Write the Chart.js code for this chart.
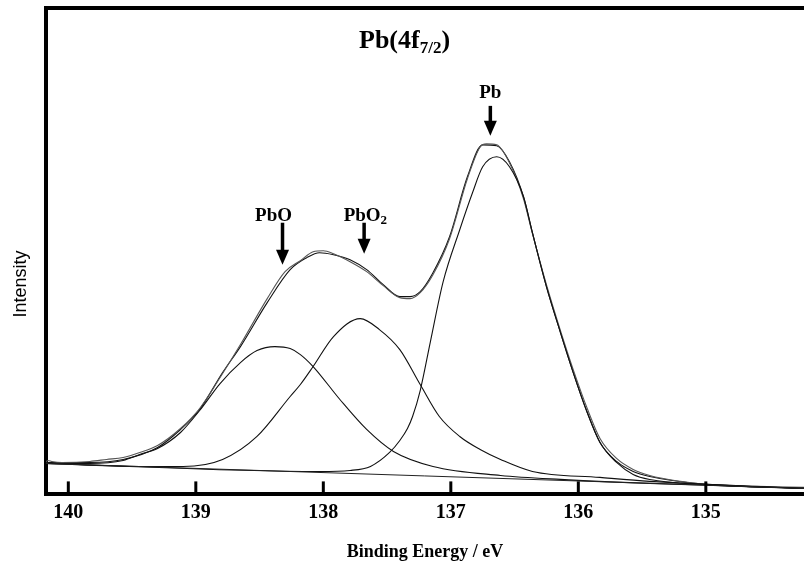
<!DOCTYPE html>
<html lang="en">
<head>
<meta charset="UTF-8">
<title>Pb(4f7/2) XPS</title>
<script src="https://cdn.jsdelivr.net/npm/chart.js"></script>
<style>
body {
    margin: 0;
    padding: 0;
    background: #fff;
}
canvas {
    display: block;
}
</style>
</head>
<body>
<canvas id="xps" width="804" height="563"></canvas>
<script>
// Binding energy ticks (eV), axis runs from high to low energy
const energyTicks = [140, 139, 138, 137, 136, 135];

// linear background
const bgE = [140.18, 134.23];
const bgI = [33, 8];

// PbO component
const pboE = [140.18, 139.83, 139.57, 139.44, 139.30, 139.12, 138.97, 138.81, 138.65, 138.52, 138.38,
              138.26, 138.18, 138.08, 137.87, 137.66, 137.45, 137.14, 136.61, 136.14, 135.44, 134.23];
const pboI = [33, 33, 36, 42, 48, 64, 86, 113, 134, 146, 150,
              148, 142, 130, 97, 67, 45, 30, 21, 17, 13, 8];

// PbO2 component
const pbo2E = [140.18, 139.44, 139.10, 138.79, 138.52, 138.26, 138.18, 138.08, 137.92, 137.71, 137.56,
               137.40, 137.24, 137.09, 136.93, 136.77, 136.61, 136.36, 135.83, 135.44, 134.23];
const pbo2I = [33, 30, 30, 37, 60, 100, 112, 130, 160, 178, 167,
               147, 112, 80, 60, 47, 37, 25, 19, 15, 8];

// metallic Pb component
const pbE = [140.18, 138.03, 137.79, 137.63, 137.48, 137.40, 137.34, 137.30, 137.24, 137.16, 137.06,
             136.93, 136.83, 136.75, 136.64, 136.54, 136.43, 136.36, 136.25, 136.14, 136.04, 135.93,
             135.83, 135.70, 135.57, 135.44, 135.00, 134.23];
const pbI = [33, 25, 26, 30, 44, 56, 68, 80, 106, 155, 215,
             267, 304, 330, 340, 330, 300, 264, 210, 164, 124, 84,
             54, 34, 22, 17, 12, 8];

// fitted envelope
const fitE = [140.18, 140.13, 139.83, 139.57, 139.30, 139.12, 138.97, 138.79, 138.65, 138.44, 138.26,
              138.13, 138.03, 137.92, 137.79, 137.66, 137.53, 137.40, 137.32, 137.24, 137.14, 137.01,
              136.87, 136.75, 136.64, 136.54, 136.43, 136.36, 136.25, 136.14, 136.04, 135.93, 135.83,
              135.70, 135.57, 135.44, 135.00, 134.23];
const fitI = [34, 34, 34, 37, 49, 67, 87, 124, 150, 194, 227,
              239, 244, 242, 237, 227, 212, 200, 200, 205, 224, 260,
              320, 352, 351, 335, 300, 264, 210, 164, 124, 84, 54,
              35, 25, 20, 12, 8];

// measured spectrum
const expE = [140.18, 140.16, 140.13, 140.05, 139.83, 139.70, 139.57, 139.44, 139.30, 139.12, 138.97,
              138.79, 138.65, 138.44, 138.30, 138.18, 138.08, 138.00, 137.92, 137.79, 137.66, 137.53,
              137.40, 137.32, 137.24, 137.14, 137.01, 136.87, 136.77, 136.72, 136.64, 136.54, 136.43,
              136.36, 136.25, 136.14, 136.04, 135.93, 135.83, 135.70, 135.57, 135.44, 135.20, 135.00,
              134.60, 134.23];
const expI = [34, 36, 35, 34, 35, 37, 39, 44, 51, 68, 88,
              123, 152, 198, 225, 236, 245, 246, 243, 235, 225, 211,
              199, 198, 204, 222, 258, 318, 350, 353, 352, 334, 298,
              263, 212, 166, 127, 88, 58, 38, 27, 21, 15, 12,
              10, 9];

function pts(es, is) {
    return es.map((e, k) => ({ x: e, y: is[k] }));
}

function curve(es, is, color, width) {
    return {
        data: pts(es, is),
        borderColor: color,
        borderWidth: width,
        pointRadius: 0,
        fill: false,
        cubicInterpolationMode: 'monotone'
    };
}

// peak markers: label, subscript, energy of arrow, arrow tail/tip intensity, label offset and intensity
const markers = [
    { text: 'PbO', sub: '', e: 138.32, tail: 274, tip: 232, dx: -9, label: 283 },
    { text: 'PbO', sub: '2', e: 137.68, tail: 274, tip: 243, dx: 0, label: 283 },
    { text: 'Pb', sub: '', e: 136.69, tail: 391, tip: 361, dx: 0, label: 406 }
];

const serif = '"Liberation Serif", "Times New Roman", serif';

const decor = {
    id: 'decor',
    afterDraw(chart) {
        const { ctx, chartArea: a, scales: { x, y } } = chart;
        ctx.save();
        ctx.strokeStyle = '#000';
        ctx.fillStyle = '#000';

        // top frame
        ctx.lineWidth = 4;
        ctx.beginPath();
        ctx.moveTo(a.left - 2, a.top);
        ctx.lineTo(a.right, a.top);
        ctx.stroke();

        // tick marks pointing into the plot
        ctx.lineWidth = 3;
        energyTicks.forEach(v => {
            const px = x.getPixelForValue(v);
            ctx.beginPath();
            ctx.moveTo(px, a.bottom);
            ctx.lineTo(px, a.bottom - 13);
            ctx.stroke();
        });

        // y axis title
        ctx.save();
        ctx.translate(21, 284);
        ctx.rotate(-Math.PI / 2);
        ctx.textAlign = 'center';
        ctx.textBaseline = 'middle';
        ctx.font = '18px "Liberation Sans", Arial, sans-serif';
        ctx.fillText('Intensity', 0, 0);
        ctx.restore();

        // title Pb(4f7/2)
        ctx.textBaseline = 'alphabetic';
        ctx.textAlign = 'left';
        let tx = 359, ty = 48;
        ctx.font = 'bold 26px ' + serif;
        ctx.fillText('Pb(4f', tx, ty);
        tx += ctx.measureText('Pb(4f').width;
        ctx.font = 'bold 17px ' + serif;
        ctx.fillText('7/2', tx, ty + 5);
        tx += ctx.measureText('7/2').width;
        ctx.font = 'bold 26px ' + serif;
        ctx.fillText(')', tx, ty);

        // peak labels with arrows
        markers.forEach(m => {
            const px = x.getPixelForValue(m.e);
            const yTail = y.getPixelForValue(m.tail);
            const yTip = y.getPixelForValue(m.tip);
            const yLab = y.getPixelForValue(m.label);

            ctx.font = 'bold 19px ' + serif;
            const w1 = ctx.measureText(m.text).width;
            const left = px - w1 / 2 - (m.sub ? 2 : 0) + m.dx;
            ctx.fillText(m.text, left, yLab + 7);
            if (m.sub) {
                ctx.font = 'bold 13px ' + serif;
                ctx.fillText(m.sub, left + w1, yLab + 10);
            }

            ctx.lineWidth = 3.5;
            ctx.beginPath();
            ctx.moveTo(px, yTail);
            ctx.lineTo(px, yTip - 12);
            ctx.stroke();
            ctx.beginPath();
            ctx.moveTo(px - 6.5, yTip - 15);
            ctx.lineTo(px + 6.5, yTip - 15);
            ctx.lineTo(px, yTip);
            ctx.closePath();
            ctx.fill();
        });
        ctx.restore();
    }
};

new Chart(document.getElementById('xps'), {
    type: 'line',
    data: {
        datasets: [
            curve(bgE, bgI, '#222', 1),
            curve(pboE, pboI, '#111', 1.1),
            curve(pbo2E, pbo2I, '#111', 1.1),
            curve(pbE, pbI, '#111', 1.1),
            curve(expE, expI, '#555', 1.1),
            curve(fitE, fitI, '#111', 1.1)
        ]
    },
    options: {
        responsive: false,
        animation: false,
        layout: { padding: { left: 46, top: 8, right: 0, bottom: 0 } },
        plugins: {
            legend: { display: false },
            tooltip: { enabled: false }
        },
        scales: {
            x: {
                type: 'linear',
                reverse: true,
                min: 134.23,
                max: 140.175,
                afterBuildTicks: s => { s.ticks = energyTicks.map(v => ({ value: v })); },
                grid: { display: true, drawOnChartArea: false, drawTicks: false },
                border: { display: true, color: '#000', width: 4 },
                ticks: {
                    color: '#000',
                    padding: 6,
                    maxRotation: 0,
                    autoSkip: false,
                    font: { family: serif, size: 20, weight: 'bold' },
                    callback: v => String(v)
                },
                title: {
                    display: true,
                    text: 'Binding Energy / eV',
                    color: '#000',
                    font: { family: serif, size: 18, weight: 'bold' },
                    padding: { top: 11, bottom: 0 }
                }
            },
            y: {
                type: 'linear',
                min: 2,
                max: 489,
                grid: { display: true, drawOnChartArea: false, drawTicks: false },
                border: { display: true, color: '#000', width: 4 },
                ticks: { display: false },
                title: { display: false }
            }
        }
    },
    plugins: [decor]
});
</script>
</body>
</html>
